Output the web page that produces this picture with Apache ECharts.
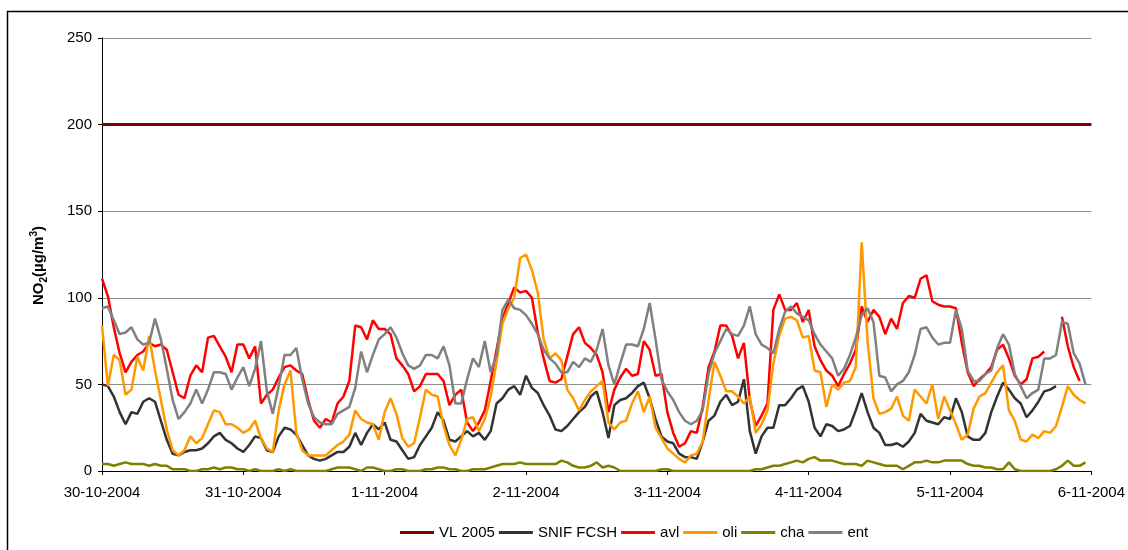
<!DOCTYPE html>
<html>
<head>
<meta charset="utf-8">
<title>NO2</title>
<script src="https://cdn.jsdelivr.net/npm/echarts@6/dist/echarts.min.js"></script>
<style>
  html, body { margin: 0; padding: 0; background: #fff; }
  #main { width: 1128px; height: 550px; }
</style>
</head>
<body>
<div id="main"></div>
<script>
// day labels on the x axis, one point per hour
const days = ["30-10-2004", "31-10-2004", "1-11-2004", "2-11-2004", "3-11-2004", "4-11-2004", "5-11-2004", "6-11-2004"];

// limit value
const VL_2005 = 200;

const snif = [
  50, 49, 43, 34, 27, 34, 33, 40, 42, 40, 29, 18, 10, 9, 11, 12, 12, 13, 16, 20, 22, 18, 16, 13,
  11, 15, 20, 19, 12, 11, 20, 25, 24, 21, 15, 9, 7, 6, 7, 9, 11, 11, 14, 22, 15, 22, 27, 24,
  28, 18, 17, 12, 7, 8, 15, 20, 25, 34, 29, 18, 17, 20, 23, 20, 22, 18, 23, 39, 42, 47, 49, 44,
  55, 48, 45, 38, 32, 24, 23, 26, 30, 34, 37, 43, 46, 34, 19, 38, 41, 42, 45, 49, 51, 42, 30, 20,
  17, 16, 10, 8, 8, 7, 17, 29, 32, 40, 44, 38, 40, 53, 23, 10, 20, 25, 25, 38, 38, 42, 47, 49,
  40, 25, 20, 27, 26, 23, 24, 26, 35, 45, 34, 25, 22, 15, 15, 16, 14, 17, 22, 33, 29, 28, 27, 31,
  30, 42, 34, 20, 18, 18, 22, 34, 43, 51, 47, 42, 39, 31, 35, 40, 46, 47, 49, null, null, null, null, null
];

const avl = [
  111, 101, 83, 68, 57, 63, 67, 69, 74, 72, 73, 70, 57, 44, 42, 55, 61, 57, 77, 78, 72, 66, 57, 73,
  73, 65, 72, 39, 44, 47, 54, 60, 61, 58, 56, 41, 29, 25, 30, 28, 39, 43, 52, 84, 83, 76, 87, 82,
  82, 79, 65, 61, 56, 46, 49, 56, 56, 56, 52, 38, 44, 47, 28, 23, 28, 35, 52, 70, 88, 97, 106, 103,
  104, 100, 80, 65, 52, 51, 53, 66, 79, 83, 74, 71, 67, 57, 34, 47, 54, 59, 55, 56, 75, 70, 55, 56,
  34, 22, 14, 16, 23, 22, 37, 60, 69, 84, 84, 78, 65, 74, 41, 26, 32, 39, 93, 102, 93, 93, 97, 86,
  93, 72, 64, 58, 55, 49, 56, 62, 70, 95, 86, 93, 89, 79, 88, 82, 97, 101, 100, 111, 113, 98, 96, 95,
  95, 94, 74, 57, 49, 53, 56, 60, 70, 73, 65, 55, 50, 53, 65, 66, 69, null, null, 89, 72, 60, 52, null
];

const oli = [
  84, 49, 67, 64, 44, 47, 66, 58, 78, 58, 41, 24, 12, 9, 12, 20, 16, 19, 27, 35, 34, 27, 27, 25,
  22, 24, 29, 19, 13, 11, 35, 50, 58, 22, 12, 9, 9, 9, 9, 12, 15, 17, 21, 35, 30, 28, 27, 18,
  34, 42, 33, 19, 14, 16, 31, 47, 44, 43, 26, 15, 9, 18, 30, 31, 23, 30, 43, 63, 85, 94, 100, 123,
  125, 116, 103, 76, 65, 68, 64, 47, 42, 35, 41, 46, 49, 52, 28, 24, 28, 29, 39, 46, 34, 43, 25, 19,
  13, 10, 7, 5, 9, 10, 17, 41, 63, 55, 46, 46, 43, 39, 43, 22, 27, 35, 62, 78, 88, 89, 87, 77,
  78, 58, 57, 37, 50, 47, 51, 52, 60, 132, 75, 42, 33, 34, 36, 43, 32, 29, 47, 43, 39, 50, 30, 43,
  35, 27, 18, 21, 36, 43, 45, 51, 57, 61, 35, 29, 18, 17, 21, 19, 23, 22, 26, 37, 49, 44, 41, 39
];

const cha = [
  4, 4, 3, 4, 5, 4, 4, 4, 3, 4, 3, 3, 1, 1, 1, 0, 0, 1, 1, 2, 1, 2, 2, 1,
  1, 0, 1, 0, 0, 0, 1, 0, 1, 0, 0, 0, 0, 0, 0, 1, 2, 2, 2, 1, 0, 2, 2, 1,
  0, 0, 1, 1, 0, 0, 0, 1, 1, 2, 2, 1, 1, 0, 0, 1, 1, 1, 2, 3, 4, 4, 4, 5,
  4, 4, 4, 4, 4, 4, 6, 5, 3, 2, 2, 3, 5, 2, 3, 2, 0, 0, 0, 0, 0, 0, 0, 1,
  1, 0, 0, 0, 0, 0, 0, 0, 0, 0, 0, 0, 0, 0, 0, 1, 1, 2, 3, 3, 4, 5, 6, 5,
  7, 8, 6, 6, 6, 5, 4, 4, 4, 3, 6, 5, 4, 3, 3, 3, 1, 3, 5, 5, 6, 5, 5, 6,
  6, 6, 6, 4, 3, 3, 2, 2, 1, 1, 5, 1, 0, 0, 0, 0, 0, 0, 1, 3, 6, 3, 3, 5
];

const ent = [
  94, 95, 87, 79, 80, 83, 76, 73, 74, 88, 76, 59, 41, 30, 34, 39, 47, 39, 47, 57, 57, 56, 47, 54,
  60, 49, 59, 75, 46, 33, 49, 67, 67, 71, 53, 39, 31, 28, 27, 27, 33, 35, 37, 48, 69, 57, 67, 76,
  79, 83, 77, 68, 61, 59, 61, 67, 67, 65, 72, 61, 39, 39, 53, 65, 60, 75, 57, 67, 93, 99, 94, 93,
  90, 85, 79, 70, 65, 62, 57, 57, 63, 60, 65, 63, 70, 82, 61, 50, 62, 73, 73, 72, 82, 97, 76, 53,
  46, 41, 34, 29, 27, 29, 35, 56, 68, 75, 82, 79, 78, 84, 95, 79, 73, 71, 68, 82, 92, 95, 91, 89,
  87, 79, 73, 69, 65, 55, 59, 67, 77, 90, 94, 86, 55, 54, 46, 50, 52, 57, 67, 82, 83, 77, 73, 74,
  74, 93, 82, 58, 52, 52, 56, 58, 71, 79, 73, 56, 49, 42, 45, 47, 65, 65, 67, 86, 85, 68, 62, 50
];

// hourly categories, the last one is the closing day boundary
let hours = [];
for (let d = 0; d < days.length - 1; d++) {
  for (let h = 0; h < 24; h++) {
    hours.push(days[d] + " " + h + ":00");
  }
}
hours.push(days[days.length - 1] + " 0:00");

const font = "'Liberation Sans', Arial, sans-serif";

let myChart = echarts.init(document.getElementById("main"));

function line(name, data, color) {
  return {
    name: name,
    type: "line",
    data: data,
    symbol: "none",
    connectNulls: false,
    lineStyle: { color: color, width: 2.5 },
    itemStyle: { color: color },
  };
}

let option = {
  animation: false,
  backgroundColor: "#fff",
  textStyle: { fontFamily: font },
  graphic: [
    {
      type: "rect",
      shape: { x: 7.5, y: 11.5, width: 1200, height: 600 },
      style: { fill: "none", stroke: "#000", lineWidth: 1.5 },
      silent: true,
    },
  ],
  grid: { left: 102, right: 33, top: 38, bottom: 79 },
  legend: {
    left: 395,
    top: 520,
    icon: "rect",
    itemWidth: 34,
    itemHeight: 3,
    itemGap: 4,
    textStyle: { fontSize: 15, color: "#000", fontFamily: font },
    data: ["VL 2005", "SNIF FCSH", "avl", "oli", "cha", "ent"],
  },
  xAxis: {
    type: "category",
    data: hours,
    boundaryGap: false,
    axisLine: { lineStyle: { color: "#000", width: 1 } },
    axisTick: { interval: 23, length: 4, lineStyle: { color: "#000" } },
    axisLabel: {
      interval: 23,
      fontSize: 15,
      color: "#000",
      margin: 14,
      fontFamily: font,
      formatter: function (v) {
        return v.split(" ")[0];
      },
    },
    splitLine: { show: false },
  },
  yAxis: {
    type: "value",
    min: 0,
    max: 250,
    interval: 50,
    name: "{b|NO}{s|2}{b|(µg/m}{p|3}{b|)}",
    nameLocation: "middle",
    nameRotate: 90,
    nameGap: 53,
    nameTextStyle: {
      fontFamily: font,
      padding: [0, 22, 0, 0],
      rich: {
        b: { fontSize: 15, fontWeight: "bold", color: "#000", fontFamily: font, lineHeight: 20 },
        s: { fontSize: 10, fontWeight: "bold", color: "#000", fontFamily: font, verticalAlign: "bottom", lineHeight: 20 },
        p: { fontSize: 10, fontWeight: "bold", color: "#000", fontFamily: font, verticalAlign: "top", lineHeight: 20 },
      },
    },
    axisLine: { show: true, lineStyle: { color: "#000", width: 1 } },
    axisTick: { show: true, length: 4, lineStyle: { color: "#000" } },
    axisLabel: { fontSize: 15, color: "#000", margin: 10, fontFamily: font },
    splitLine: { lineStyle: { color: "#8c8c8c", width: 1 } },
  },
  series: [
    {
      name: "VL 2005",
      type: "line",
      data: [],
      symbol: "none",
      lineStyle: { color: "#800000", width: 3 },
      itemStyle: { color: "#800000" },
      markLine: {
        silent: true,
        symbol: "none",
        label: { show: false },
        lineStyle: { color: "#800000", width: 3, type: "solid" },
        data: [{ yAxis: VL_2005 }],
      },
    },
    line("SNIF FCSH", snif, "#333333"),
    line("avl", avl, "#ff0000"),
    line("oli", oli, "#ff9900"),
    line("cha", cha, "#808000"),
    line("ent", ent, "#808080"),
  ],
};

myChart.setOption(option);
</script>
</body>
</html>
